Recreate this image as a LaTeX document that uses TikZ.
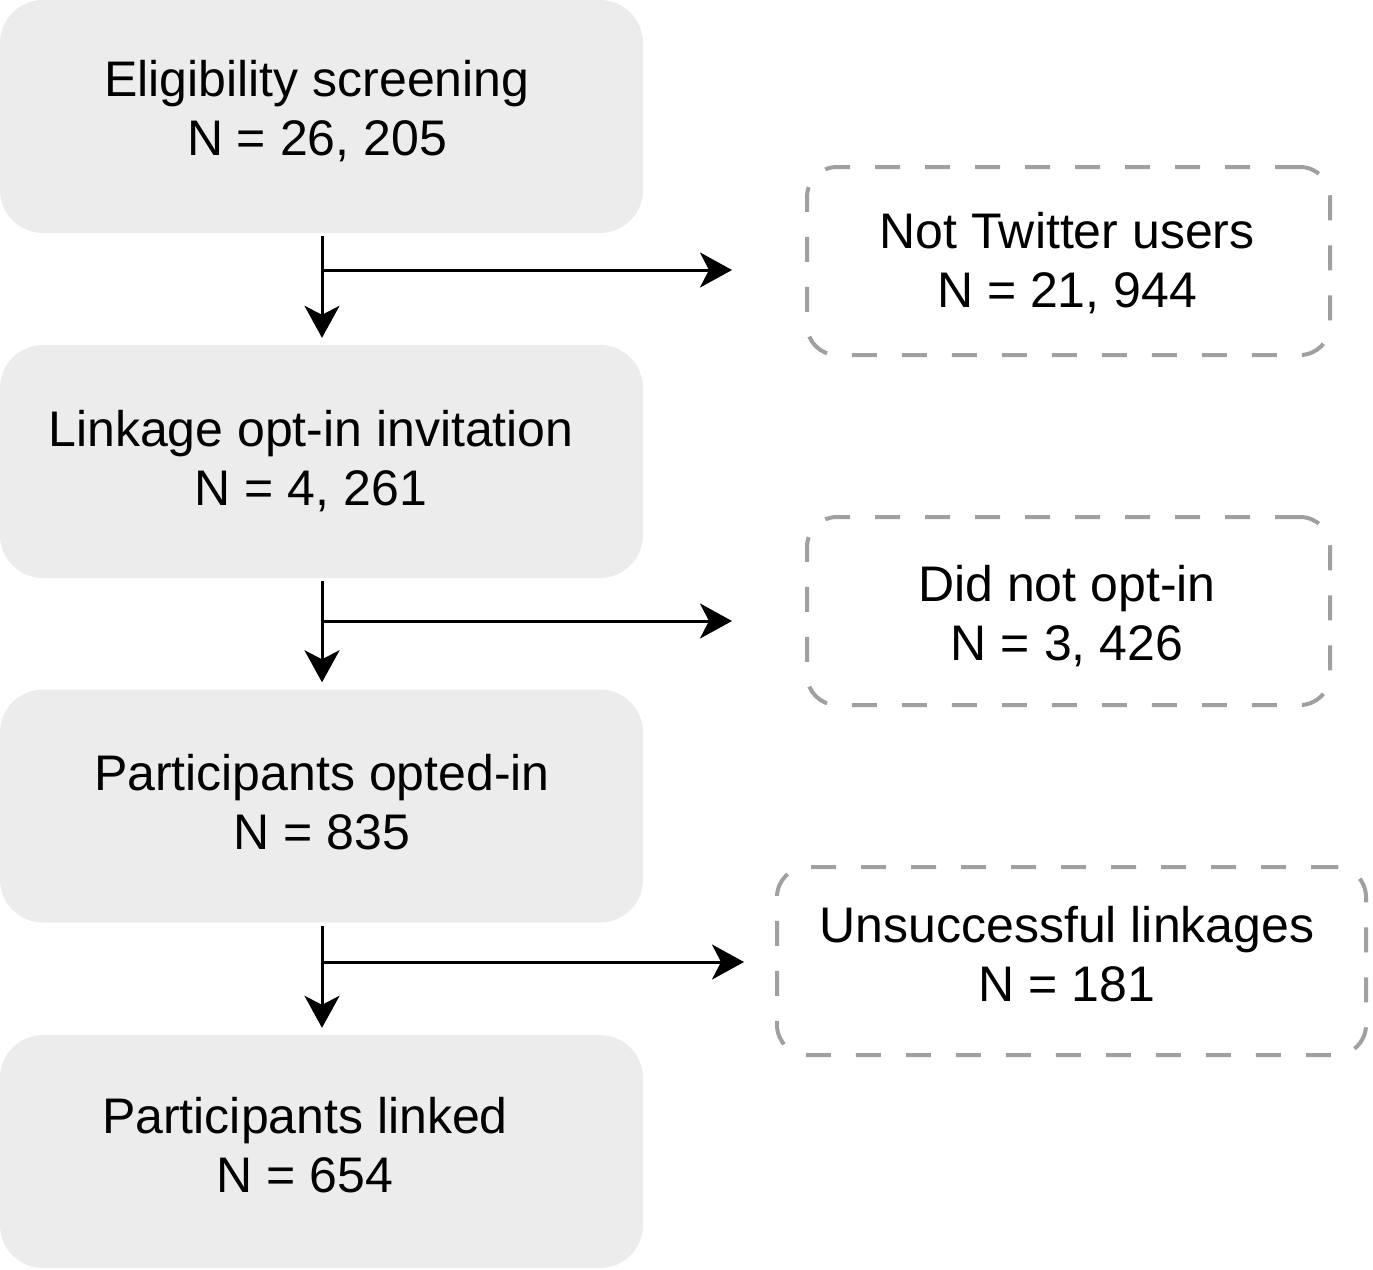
\documentclass[tikz,border=0pt]{standalone}
\usepackage{fontspec}
\setmainfont{Liberation Sans}
\usetikzlibrary{arrows.meta}
\definecolor{boxfill}{RGB}{236,236,236}
\definecolor{dashgray}{RGB}{160,160,160}
\begin{document}
\begin{tikzpicture}[x=1pt,y=-1pt,
  lbox/.style={rectangle, rounded corners=43pt, fill=boxfill, draw=none,
    minimum width=643pt, minimum height=233pt, inner sep=0pt},
  rbox/.style={rectangle, rounded corners=30pt, draw=dashgray, line width=4pt,
    dash pattern=on 25pt off 25pt, minimum height=188pt, inner sep=0pt},
  txt/.style={align=center, inner sep=0pt, font=\fontsize{50}{59}\selectfont},
  arr/.style={line width=3pt, -{Stealth[length=32pt,width=35pt,inset=9pt]}}
]
\useasboundingbox (0,0) rectangle (1373,1269);
% left boxes
\node[lbox] (b1) at (321.5,116.5) {};
\node[lbox] (b2) at (321.5,461.5) {};
\node[lbox] (b3) at (321.5,806) {};
\node[lbox] (b4) at (321.5,1151.5) {};
\node[txt] (t1) at (317,111) {Eligibility screening\\N = 26, 205};
\node[txt] (t2) at (311,461) {Linkage opt-in invitation\\N = 4, 261};
\node[txt] (t3) at (322,802) {Participants opted-in\\N = 835};
\node[txt] (t4) at (305,1145) {Participants linked\\N = 654};
% right boxes
\node[rbox, minimum width=523pt] (r1) at (1068.5,261) {};
\node[rbox, minimum width=523pt] (r2) at (1068.5,611) {};
\node[rbox, minimum width=589pt] (r3) at (1071.5,961) {};
\node[txt] (u1) at (1067,263) {Not Twitter users\\N = 21, 944};
\node[txt] (u2) at (1067,616) {Did not opt-in\\N = 3, 426};
\node[txt] (u3) at (1067,954) {Unsuccessful linkages\\N = 181};
% junctions
\coordinate (j1) at (322,270);
\coordinate (j2) at (322,621);
\coordinate (j3) at (322,962);
\coordinate (e1) at (732,270);
\coordinate (e2) at (732,621);
\coordinate (e3) at (744,962);
% connectors
\draw[arr, shorten <=3pt, shorten >=7pt] ([xshift=0.5pt]b1.south) -- ([xshift=0.5pt]b2.north);
\draw[arr, shorten <=3pt, shorten >=7pt] ([xshift=0.5pt]b2.south) -- ([xshift=0.5pt]b3.north);
\draw[arr, shorten <=3pt, shorten >=7pt] ([xshift=0.5pt]b3.south) -- ([xshift=0.5pt]b4.north);
\draw[arr] (j1) -- (e1);
\draw[arr] (j2) -- (e2);
\draw[arr] (j3) -- (e3);
\end{tikzpicture}
\end{document}
